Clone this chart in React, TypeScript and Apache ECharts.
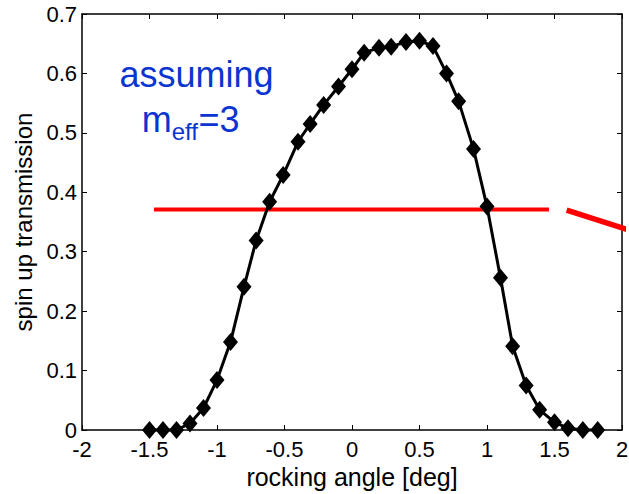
import React, { useEffect, useRef } from "react";
import * as echarts from "echarts";

const angles = [
  -1.5, -1.4, -1.3, -1.2, -1.1, -1.0, -0.9, -0.8, -0.71, -0.61, -0.51, -0.4, -0.31, -0.21, -0.1, 0.0,
  0.09, 0.2, 0.29, 0.4, 0.5, 0.6, 0.7, 0.79, 0.9, 1.0, 1.1, 1.19, 1.29, 1.39, 1.5, 1.6, 1.71, 1.82,
];
const transmission = [
  0.0, 0.0, 0.0, 0.011, 0.037, 0.084, 0.148, 0.241, 0.319, 0.384, 0.429, 0.485, 0.515, 0.547, 0.578, 0.607,
  0.635, 0.643, 0.645, 0.653, 0.655, 0.646, 0.6, 0.553, 0.473, 0.376, 0.256, 0.141, 0.075, 0.034, 0.013, 0.003, 0.0, 0.0,
];
const redLevelX = [-1.467, 1.459];
const redLevelY = [0.371, 0.371];
const redSlopeX = [1.59, 2.055];
const redSlopeY = [0.37, 0.336];

const FONT = "'Liberation Sans', Arial, Helvetica, sans-serif";
const BLUE = "#0a35d0";

export default function App() {
  const ref = useRef<HTMLDivElement>(null);
  useEffect(() => {
    if (!ref.current) return;
    const chart = echarts.init(ref.current, null, { renderer: "svg" });
    const axisCommon = {
      type: "value" as const,
      axisLine: { show: true, onZero: false, lineStyle: { color: "#000", width: 1.5 } },
      axisTick: { show: true, inside: true, length: 5, lineStyle: { color: "#000", width: 1 } },
      splitLine: { show: false },
    };
    chart.setOption({
      animation: false,
      backgroundColor: "#fff",
      grid: { left: 82, right: 7, top: 14, bottom: 64, outerBoundsMode: "none", containLabel: false },
      xAxis: [
        {
          ...axisCommon,
          min: -2,
          max: 2,
          interval: 0.5,
          position: "bottom",
          name: "rocking angle [deg]",
          nameLocation: "middle",
          nameGap: 33,
          nameTextStyle: { fontFamily: FONT, fontSize: 25, color: "#000" },
          axisLabel: { fontFamily: FONT, fontSize: 22, color: "#000", margin: 8 },
        },
        {
          ...axisCommon,
          min: -2,
          max: 2,
          interval: 0.5,
          position: "top",
          axisLabel: { show: false },
        },
      ],
      yAxis: [
        {
          ...axisCommon,
          min: 0,
          max: 0.7,
          interval: 0.1,
          position: "left",
          name: "spin up transmission",
          nameLocation: "middle",
          nameGap: 45,
          nameTextStyle: { fontFamily: FONT, fontSize: 24, color: "#000" },
          axisLabel: { fontFamily: FONT, fontSize: 22, color: "#000", margin: 5 },
        },
        {
          ...axisCommon,
          min: 0,
          max: 0.7,
          interval: 0.1,
          position: "right",
          axisLabel: { show: false },
        },
      ],
      series: [
        {
          type: "line",
          data: redLevelX.map((x, i) => [x, redLevelY[i]]),
          symbol: "none",
          lineStyle: { color: "#ff0000", width: 4 },
          clip: false,
          z: 3,
        },
        {
          type: "line",
          data: redSlopeX.map((x, i) => [x, redSlopeY[i]]),
          symbol: "none",
          lineStyle: { color: "#ff0000", width: 5.5 },
          clip: false,
          z: 3,
        },
        {
          type: "line",
          data: angles.map((x, i) => [x, transmission[i]]),
          symbol: "diamond",
          symbolSize: [15, 18],
          itemStyle: { color: "#000" },
          lineStyle: { color: "#000", width: 3 },
          clip: false,
          z: 4,
        },
      ],
      graphic: [
        {
          type: "text",
          x: 196.5,
          y: 74.2,
          style: { text: "assuming", fill: BLUE, fontSize: 36, fontFamily: FONT, align: "center", verticalAlign: "middle" },
        },
        {
          type: "text",
          x: 141.7,
          y: 119.2,
          style: { text: "m", fill: BLUE, fontSize: 36, fontFamily: FONT, align: "left", verticalAlign: "middle" },
        },
        {
          type: "text",
          x: 171.7,
          y: 131.7,
          style: { text: "eff", fill: BLUE, fontSize: 24, fontFamily: FONT, align: "left", verticalAlign: "middle" },
        },
        {
          type: "text",
          x: 198.4,
          y: 119.2,
          style: { text: "=3", fill: BLUE, fontSize: 36, fontFamily: FONT, align: "left", verticalAlign: "middle" },
        },
      ],
    });
    return () => chart.dispose();
  }, []);
  return (
    <div
      ref={ref}
      style={{ position: "fixed", left: 0, top: 0, width: 629, height: 494, background: "#fff" }}
    />
  );
}
